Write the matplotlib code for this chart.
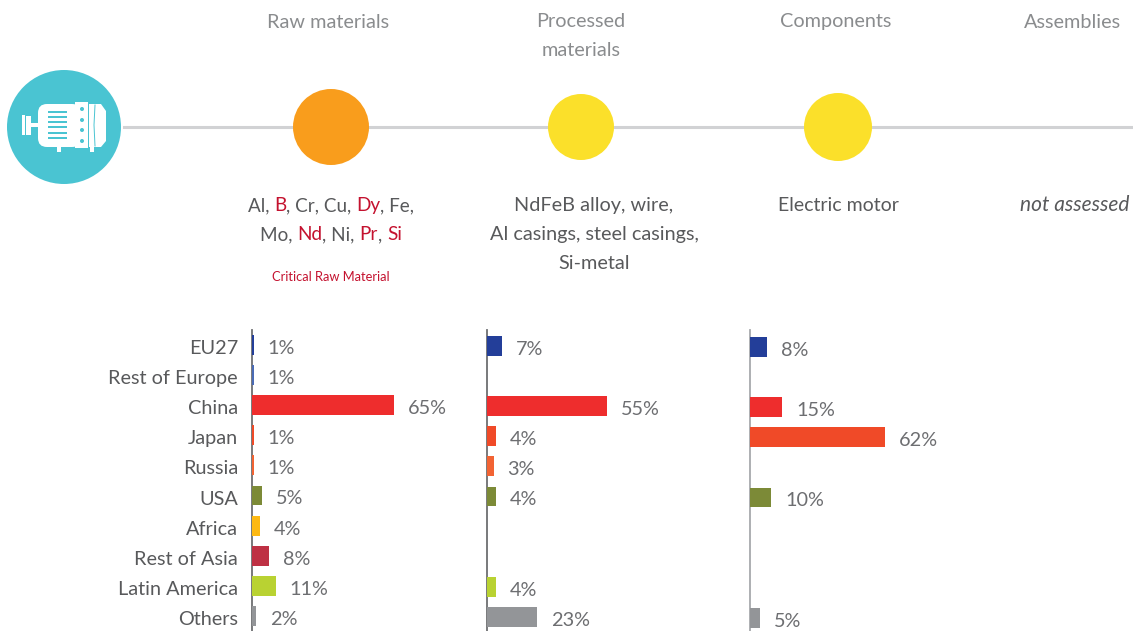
import matplotlib

matplotlib.use("Agg")
import matplotlib.pyplot as plt
from matplotlib.patches import Circle, FancyBboxPatch, Polygon, Rectangle
from matplotlib.transforms import ScaledTranslation

W, H = 1133, 631

# 데이터
categories = ["EU27", "Rest of Europe", "China", "Japan", "Russia", "USA",
              "Africa", "Rest of Asia", "Latin America", "Others"]
bar_colors = ["#233e99", "#4a6bb5", "#ee2d2d", "#f04a28", "#f26333", "#7c8a37",
              "#fdb913", "#be3144", "#b9d232", "#939598"]
raw_values = [1, 1, 65, 1, 1, 5, 4, 8, 11, 2]
processed_values = [7, None, 55, 4, 3, 4, None, None, 4, 23]
component_values = [8, None, 15, 62, None, 10, None, None, None, 5]
stage_names = ["Raw materials", "Processed\nmaterials", "Components", "Assemblies"]

GREY = "#58595b"
LIGHT = "#8a8c8e"
PCT = "#6d6e71"
RED = "#c4122f"
FS = 14.3

plt.rcParams["font.family"] = ["Lato", "DejaVu Sans"]

fig = plt.figure(figsize=(W / 100, H / 100), dpi=100)
bg = fig.add_axes([0, 0, 1, 1])
bg.set_xlim(0, W)
bg.set_ylim(H, 0)
bg.axis("off")

# 가치사슬 라인과 원
bg.plot([124, W], [127, 127], color="#d1d2d4", lw=2.2, zorder=1)
bg.add_patch(Circle((331, 127), 38, color="#f99d1c", lw=0, zorder=2))
bg.add_patch(Circle((581, 127), 33, color="#fbe02a", lw=0, zorder=2))
bg.add_patch(Circle((838, 127), 34, color="#fbe02a", lw=0, zorder=2))

# 모터 아이콘
TEAL = "#4ac4d2"
bg.add_patch(Circle((64, 127), 57, color=TEAL, lw=0, zorder=2))
white = dict(color="white", lw=0, zorder=3)
bg.add_patch(FancyBboxPatch((44, 110), 31, 31, boxstyle="round,pad=6,rounding_size=9", **white))
bg.add_patch(Rectangle((75, 102), 13, 46, **white))
bg.add_patch(Polygon([(89, 104), (101, 104), (106, 111), (106, 141), (101, 147), (89, 147)], **white))
bg.add_patch(Rectangle((57, 146), 4, 6, **white))
bg.add_patch(Rectangle((90, 146), 4, 6, **white))
bg.add_patch(Rectangle((31, 123), 8, 4, **white))
bg.add_patch(Rectangle((22, 115), 3, 20, **white))
bg.add_patch(Rectangle((26, 116), 5, 19, **white))
for fy in [112, 117, 122, 127, 133, 138]:
    bg.add_patch(Rectangle((48, fy - 1), 19, 2.2, color=TEAL, lw=0, zorder=4))
for dy in [109, 120, 130, 141]:
    bg.add_patch(Circle((82, dy), 2, color=TEAL, lw=0, zorder=4))
bg.plot([95, 94, 95], [105, 125, 146], color=TEAL, lw=0.7, zorder=4)

# 단계 제목
bg.text(328, 22, stage_names[0], color=LIGHT, fontsize=FS, ha="center", va="center")
bg.text(581, 36, stage_names[1], color=LIGHT, fontsize=FS, ha="center", va="center", linespacing=1.8)
bg.text(836, 22, stage_names[2], color=LIGHT, fontsize=FS, ha="center", va="center")
bg.text(1072, 22, stage_names[3], color=LIGHT, fontsize=FS, ha="center", va="center")


def text_width(s, size):
    # 앞뒤 공백도 폭에 들어가도록 | 로 감싸서 측정
    r = fig.canvas.get_renderer()
    t = bg.text(0, 0, "|" + s + "|", fontsize=size)
    w = t.get_window_extent(r).width
    t.set_text("||")
    w -= t.get_window_extent(r).width
    t.remove()
    return w


def colored_line(cx, y, parts, size=FS):
    # 색이 다른 조각을 이어 붙여 가운데 정렬
    widths = [text_width(s, size) for s, c in parts]
    x = cx - sum(widths) / 2
    for (s, c), w in zip(parts, widths):
        bg.text(x, y, s, color=c, fontsize=size, ha="left", va="baseline")
        x += w


colored_line(331, 211, [("Al, ", GREY), ("B", RED), (", Cr, Cu, ", GREY), ("Dy", RED), (", Fe,", GREY)], size=13.6)
colored_line(331, 240, [("Mo, ", GREY), ("Nd", RED), (", Ni, ", GREY), ("Pr", RED), (", ", GREY), ("Si", RED)], size=13.6)
bg.text(331, 281, "Critical Raw Material", color=RED, fontsize=9.3, ha="center", va="baseline")
for ty, s in zip([211, 240, 269], ["NdFeB alloy, wire,", "Al casings, steel casings,", "Si-metal"]):
    bg.text(594, ty, s, color=GREY, fontsize=FS, ha="center", va="baseline")
bg.text(838, 211, "Electric motor", color=GREY, fontsize=14, ha="center", va="baseline")
bg.text(1075, 211, "not assessed", color=GREY, fontsize=15, style="italic", ha="center", va="baseline")


def panel(x0, y0, values, spine, with_labels=False):
    # 막대 패널: 2.19 px = 1%, 행 간격 30.1 px
    ax = fig.add_axes([x0 / W, 0, 230 / W, (H - 330) / H])
    ax.patch.set_alpha(0)
    ax.set_xlim(0, 230 / 2.19)
    ax.set_ylim((H - y0) / 30.1, (330 - y0) / 30.1)
    for name in ["top", "right", "bottom"]:
        ax.spines[name].set_visible(False)
    ax.spines["left"].set_color(spine)
    ax.spines["left"].set_linewidth(1.3)
    ax.spines["left"].set_zorder(1)
    ax.set_xticks([])
    idx = [i for i, v in enumerate(values) if v is not None]
    ax.barh(idx, [values[i] for i in idx], height=0.66,
            color=[bar_colors[i] for i in idx], zorder=2)
    for i in idx:
        ax.annotate(f"{values[i]}%", (values[i], i), xytext=(10, -2.5), textcoords="offset points",
                    color=PCT, fontsize=FS, ha="left", va="center", annotation_clip=False)
    if with_labels:
        ax.set_yticks(range(len(categories)), categories, color=GREY, fontsize=FS)
        ax.tick_params(axis="y", length=0, pad=9.7)
        # 라벨을 살짝 아래로
        shift = ScaledTranslation(0, -1.5 / 72, fig.dpi_scale_trans)
        for lab in ax.get_yticklabels():
            lab.set_transform(lab.get_transform() + shift)
    else:
        ax.set_yticks([])
    return ax


panel(251.5, 345, raw_values, "#6d6e71", with_labels=True)
panel(487, 346, processed_values, "#6d6e71")
panel(749.5, 347, component_values, "#a7a9ac")

fig.savefig("out.png", dpi=100)
